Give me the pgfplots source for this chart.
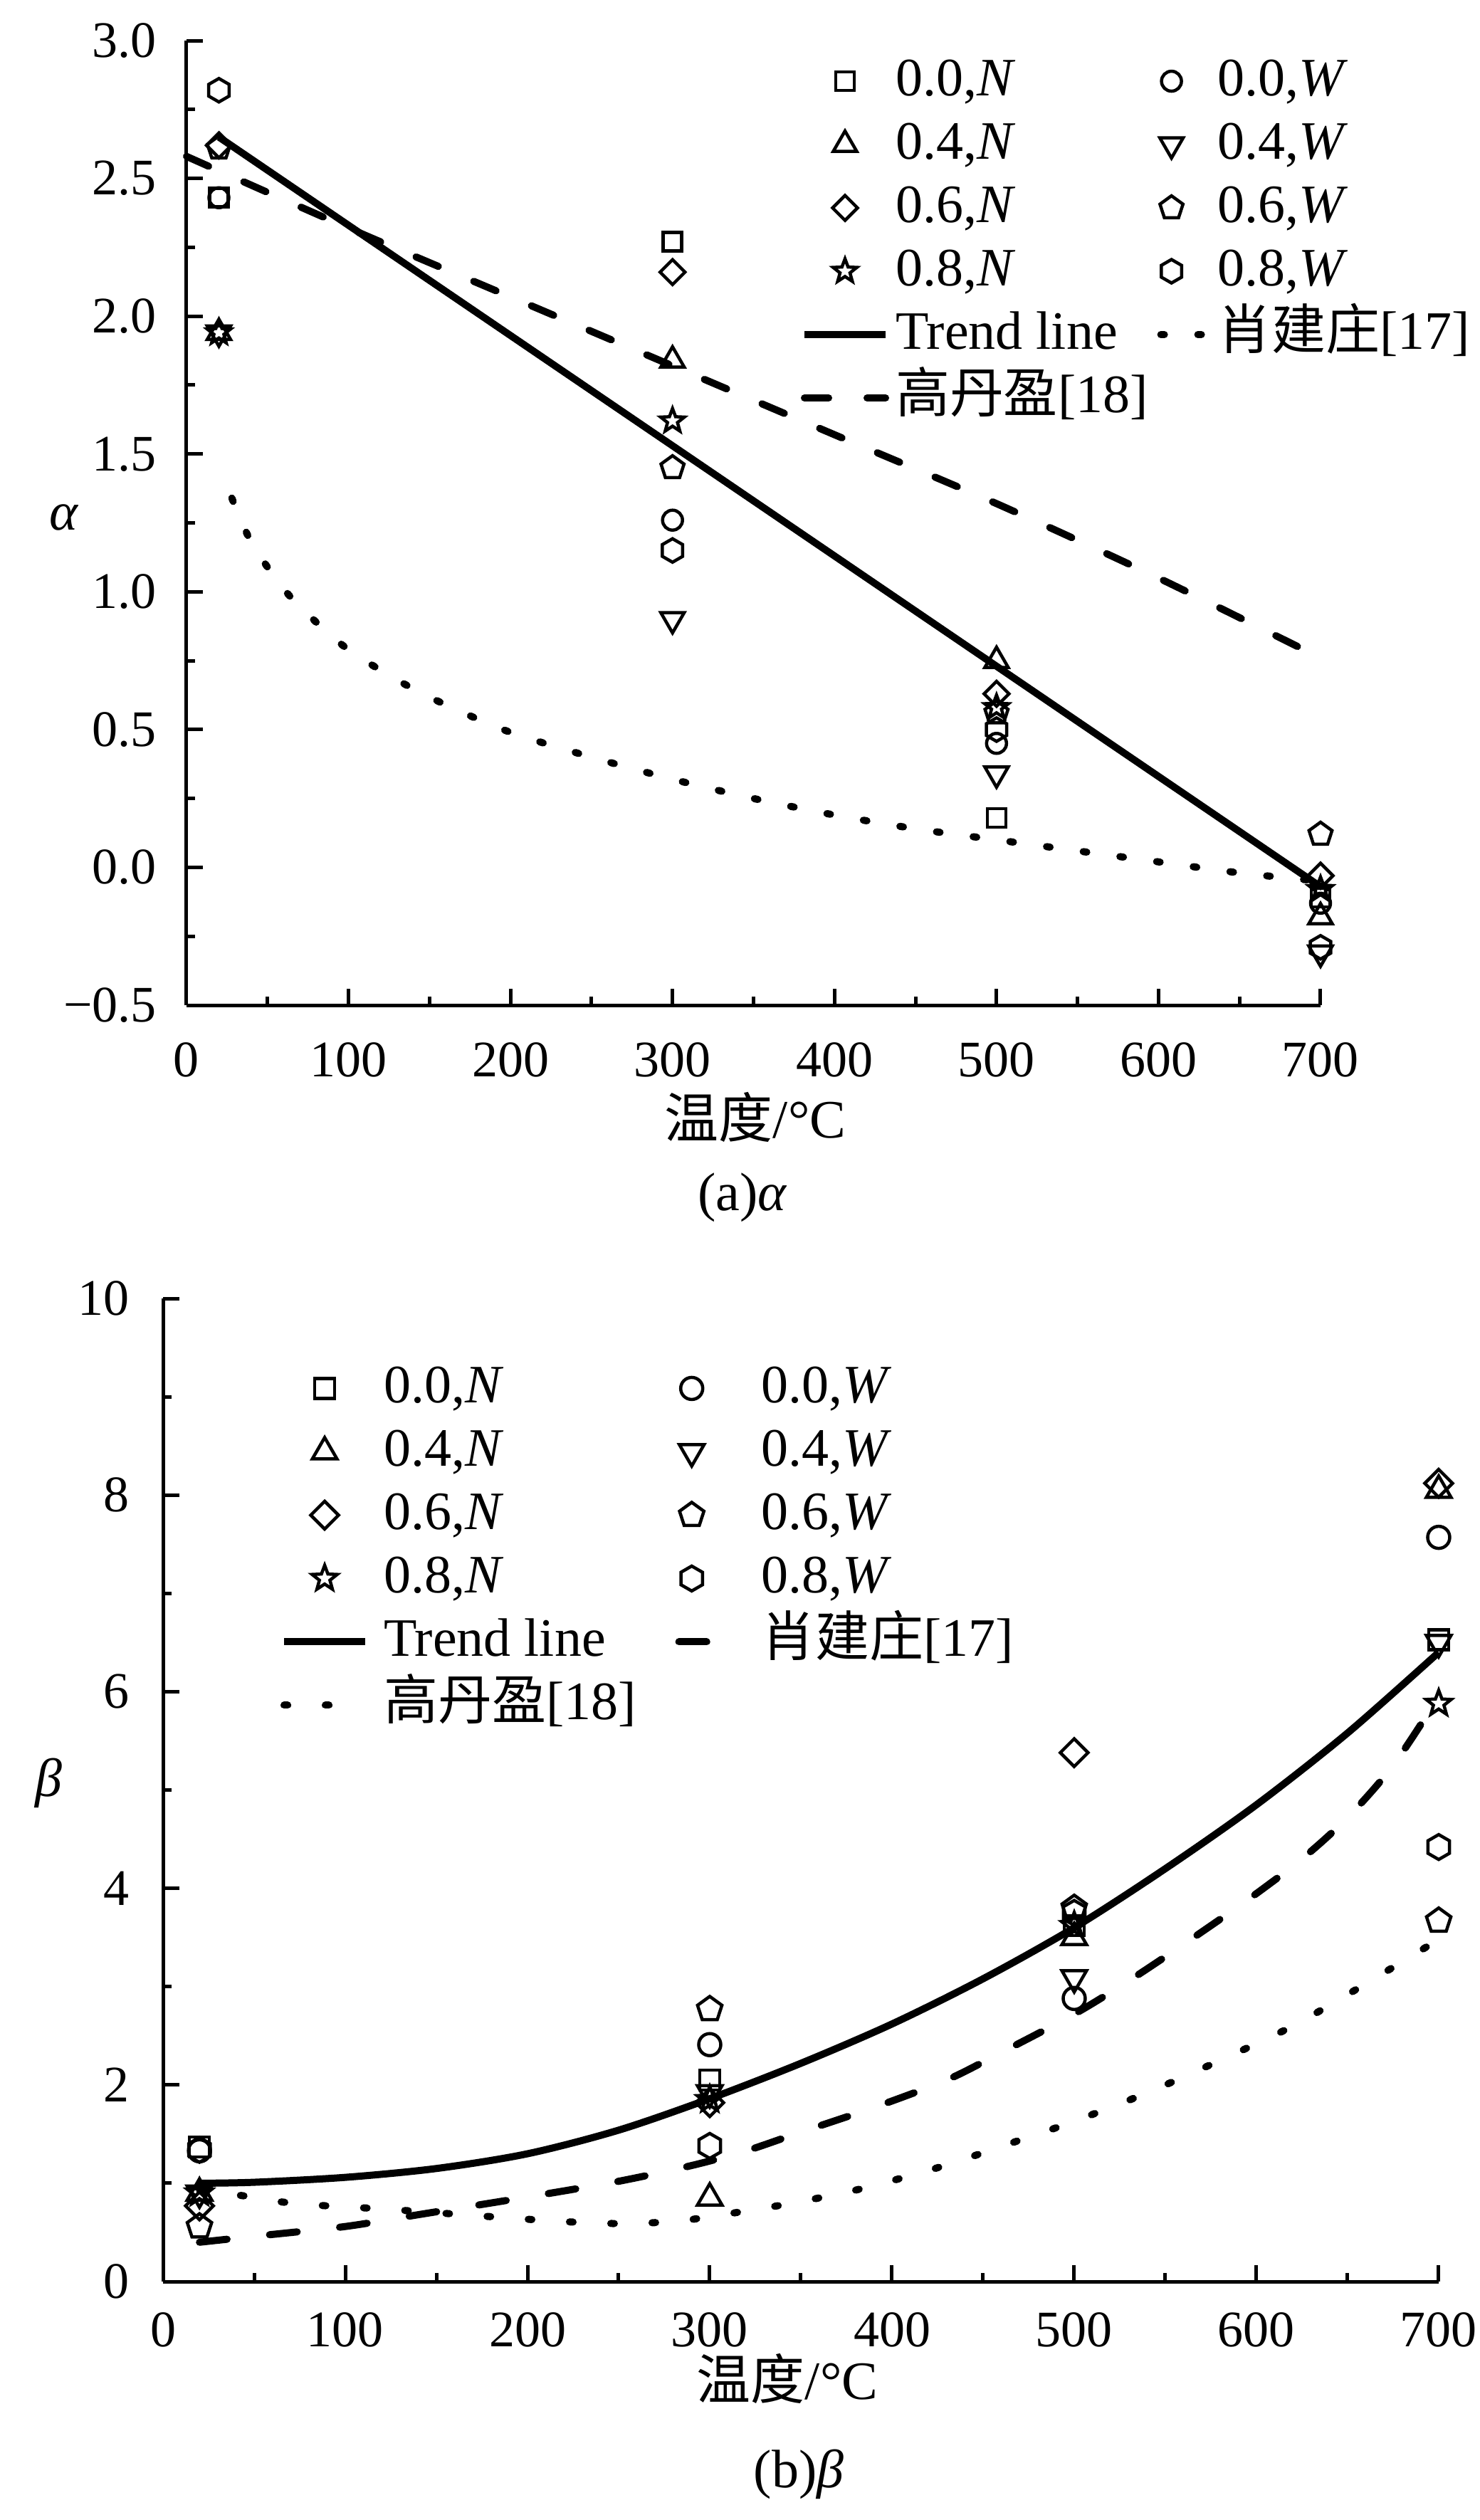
\documentclass[border=0pt]{standalone}
\usepackage{fontspec}
\setmainfont{Liberation Serif}
\newfontfamily\cjk{Noto Sans CJK SC}
\usepackage{pgfplots}
\pgfplotsset{compat=1.18}

\pgfdeclareplotmark{hexa}{%
  \pgfpathmoveto{\pgfpointpolar{90}{\pgfplotmarksize}}%
  \pgfpathlineto{\pgfpointpolar{150}{\pgfplotmarksize}}%
  \pgfpathlineto{\pgfpointpolar{210}{\pgfplotmarksize}}%
  \pgfpathlineto{\pgfpointpolar{270}{\pgfplotmarksize}}%
  \pgfpathlineto{\pgfpointpolar{330}{\pgfplotmarksize}}%
  \pgfpathlineto{\pgfpointpolar{30}{\pgfplotmarksize}}%
  \pgfpathclose\pgfusepathqstroke}
\pgfdeclareplotmark{ostar}{%
  \pgfpathmoveto{\pgfpointpolar{90}{\pgfplotmarksize}}%
  \pgfpathlineto{\pgfpointpolar{126}{0.42\pgfplotmarksize}}%
  \pgfpathlineto{\pgfpointpolar{162}{\pgfplotmarksize}}%
  \pgfpathlineto{\pgfpointpolar{198}{0.42\pgfplotmarksize}}%
  \pgfpathlineto{\pgfpointpolar{234}{\pgfplotmarksize}}%
  \pgfpathlineto{\pgfpointpolar{270}{0.42\pgfplotmarksize}}%
  \pgfpathlineto{\pgfpointpolar{306}{\pgfplotmarksize}}%
  \pgfpathlineto{\pgfpointpolar{342}{0.42\pgfplotmarksize}}%
  \pgfpathlineto{\pgfpointpolar{18}{\pgfplotmarksize}}%
  \pgfpathlineto{\pgfpointpolar{54}{0.42\pgfplotmarksize}}%
  \pgfpathclose\pgfusepathqstroke}
\pgfdeclareplotmark{dmnd}{%
  \pgfpathmoveto{\pgfqpoint{0pt}{\pgfplotmarksize}}%
  \pgfpathlineto{\pgfqpoint{\pgfplotmarksize}{0pt}}%
  \pgfpathlineto{\pgfqpoint{0pt}{-\pgfplotmarksize}}%
  \pgfpathlineto{\pgfqpoint{-\pgfplotmarksize}{0pt}}%
  \pgfpathclose\pgfusepathqstroke}
\pgfdeclareplotmark{itri}{%
  \pgfpathmoveto{\pgfpointpolar{270}{\pgfplotmarksize}}%
  \pgfpathlineto{\pgfpointpolar{30}{\pgfplotmarksize}}%
  \pgfpathlineto{\pgfpointpolar{150}{\pgfplotmarksize}}%
  \pgfpathclose\pgfusepathqstroke}

\pgfplotsset{
  base/.style={
    scale only axis,
    axis lines=left,
    axis line style={-, line width=0.5pt},
    tick align=inside,
    xmin=0, xmax=700,
    xtick={0,100,200,300,400,500,600,700},
    minor x tick num=1,
    minor y tick num=1,
    major tick length=2.3pt,
    minor tick length=1.2pt,
    every tick/.style={black, line width=0.5pt},
    tick label style={font=\fontsize{7.2}{8}\selectfont},
    /pgf/number format/assume math mode=true,
    clip=false,
    legend cell align=left,
    legend image code/.code={\draw[mark repeat=2,mark phase=2,##1] plot coordinates {(0pt,0pt) (5.7pt,0pt) (11.4pt,0pt)};},
  },
  legA/.style={legend image code/.code={\draw[mark repeat=2,mark phase=2,##1] plot coordinates {(0pt,0pt) (1.5pt,0pt) (6.6pt,0pt)};}},
  legB/.style={legend image code/.code={\draw[mark repeat=2,mark phase=2,##1] plot coordinates {(0pt,0pt) (1.8pt,0pt) (9pt,0pt)};}},
  mk/.style={black, only marks, mark=#1, mark options={solid, line width=0.45pt}},
}

\begin{document}
\begin{tikzpicture}
\useasboundingbox (0,0) rectangle (207.9pt,-354pt);

% ---------------- (a) alpha ----------------
\begin{axis}[base,
  at={(26.2pt,-141.2pt)}, anchor=south west,
  width=159.3pt, height=135.5pt,
  ymin=-0.5, ymax=3,
  ytick={-0.5,0,0.5,1,1.5,2,2.5,3},
  yticklabels={−0.5,0.0,0.5,1.0,1.5,2.0,2.5,3.0},
  xticklabel style={yshift=-1.7pt},
  yticklabel style={xshift=-0.7pt},
  legend columns=2,
  legend style={at={(0.5405,0.986)}, anchor=north west, draw=none, fill=none,
    inner sep=0pt, font=\fontsize{7.6}{9}\selectfont,
    row sep=1.7pt, column sep=0.9pt,
    /tikz/every even column/.append style={column sep=1.3pt},
    nodes={inner sep=0pt, text height=5.6pt, text depth=1.6pt}},
]
\addplot[mk=square, mark size=1.3pt] coordinates {(20,2.43) (300,2.27) (500,0.18) (700,-0.11)};
\addlegendentry{0.0,\textit{N}}
\addplot[mk=o, mark size=1.4pt, legA] coordinates {(20,2.43) (300,1.26) (500,0.45) (700,-0.13)};
\addlegendentry{0.0,\textit{W}}
\addplot[mk=triangle, mark size=1.9pt] coordinates {(20,1.94) (300,1.84) (500,0.75) (700,-0.18)};
\addlegendentry{0.4,\textit{N}}
\addplot[mk=itri, mark size=1.9pt, legA] coordinates {(20,1.94) (300,0.90) (500,0.34) (700,-0.31)};
\addlegendentry{0.4,\textit{W}}
\addplot[mk=dmnd, mark size=1.75pt] coordinates {(20,2.62) (300,2.16) (500,0.63) (700,-0.03)};
\addlegendentry{0.6,\textit{N}}
\addplot[mk=pentagon, mark size=1.7pt, legA] coordinates {(20,2.61) (300,1.45) (500,0.56) (700,0.12)};
\addlegendentry{0.6,\textit{W}}
\addplot[mk=ostar, mark size=1.75pt] coordinates {(20,1.94) (300,1.62) (500,0.58) (700,-0.08)};
\addlegendentry{0.8,\textit{N}}
\addplot[mk=hexa, mark size=1.65pt, legA] coordinates {(20,2.82) (300,1.15) (500,0.50) (700,-0.29)};
\addlegendentry{0.8,\textit{W}}
\addplot[black, line width=1pt, no markers] coordinates {(20,2.65) (700,-0.07)};
\addlegendentry{Trend line}
\addplot[black, line width=1pt, line cap=round, dash pattern=on 0.5pt off 4.7pt, no markers, smooth, legA] coordinates {
(28,1.34) (40,1.18) (60,1.01) (80,0.89) (100,0.79) (130,0.68) (160,0.59) (200,0.49) (250,0.40) (300,0.32) (350,0.25) (400,0.19) (450,0.14) (500,0.10) (550,0.06) (600,0.02) (650,-0.02) (700,-0.05)};
\addlegendentry{{\cjk 肖建庄}[17]}
\addplot[black, line width=1pt, line cap=round, dash pattern=on 3.4pt off 5.4pt, no markers, smooth] coordinates {
(0,2.58) (100,2.32) (200,2.07) (300,1.82) (400,1.57) (500,1.32) (600,1.05) (700,0.76)};
\addlegendentry{{\cjk 高丹盈}[18]}
\end{axis}

\node[font=\fontsize{7.6}{9}\selectfont] at (9.0pt,-72.7pt) {\textit{α}};
\node[font=\fontsize{7.6}{9}\selectfont] at (106.1pt,-156.9pt) {{\cjk 温度}/°C};
\node[font=\fontsize{7.6}{9}\selectfont] at (104.3pt,-168.2pt) {(a)\textit{α}};

% ---------------- (b) beta ----------------
\begin{axis}[base,
  at={(22.9pt,-320.5pt)}, anchor=south west,
  width=179.2pt, height=138.1pt,
  ymin=0, ymax=10,
  ytick={0,2,4,6,8,10},
  xticklabel style={yshift=-0.8pt},
  yticklabel style={xshift=-1.2pt},
  legend columns=2,
  legend style={at={(0.091,0.936)}, anchor=north west, draw=none, fill=none,
    inner sep=0pt, font=\fontsize{7.6}{9}\selectfont,
    row sep=1.7pt, column sep=2.1pt,
    /tikz/every even column/.append style={column sep=5.5pt},
    nodes={inner sep=0pt, text height=5.6pt, text depth=1.6pt}},
]
\addplot[mk=square, mark size=1.4pt] coordinates {(20,1.37) (300,2.05) (500,3.62) (700,6.53)};
\addlegendentry{0.0,\textit{N}}
\addplot[mk=o, mark size=1.55pt, legB] coordinates {(20,1.33) (300,2.41) (500,2.88) (700,7.57)};
\addlegendentry{0.0,\textit{W}}
\addplot[mk=triangle, mark size=2.0pt] coordinates {(20,0.90) (300,0.85) (500,3.50) (700,8.05)};
\addlegendentry{0.4,\textit{N}}
\addplot[mk=itri, mark size=2.0pt, legB] coordinates {(20,0.90) (300,1.92) (500,3.09) (700,6.50)};
\addlegendentry{0.4,\textit{W}}
\addplot[mk=dmnd, mark size=1.95pt] coordinates {(20,0.77) (300,1.82) (500,5.38) (700,8.12)};
\addlegendentry{0.6,\textit{N}}
\addplot[mk=pentagon, mark size=1.8pt, legB] coordinates {(20,0.56) (300,2.77) (500,3.80) (700,3.67)};
\addlegendentry{0.6,\textit{W}}
\addplot[mk=ostar, mark size=1.85pt] coordinates {(20,0.90) (300,1.85) (500,3.62) (700,5.88)};
\addlegendentry{0.8,\textit{N}}
\addplot[mk=hexa, mark size=1.75pt, legB] coordinates {(20,1.34) (300,1.38) (500,3.75) (700,4.42)};
\addlegendentry{0.8,\textit{W}}
\addplot[black, line width=1pt, no markers, smooth] coordinates {
(20,1.00) (50,1.01) (100,1.06) (150,1.15) (200,1.30) (250,1.54) (300,1.86) (350,2.22) (400,2.62) (450,3.08) (500,3.60) (550,4.20) (600,4.85) (650,5.58) (700,6.40)};
\addlegendentry{Trend line}
\addplot[black, line width=1pt, line cap=round, dash pattern=on 3.9pt off 6.0pt, no markers, smooth, legB] coordinates {
(20,0.40) (50,0.46) (100,0.56) (140,0.68) (200,0.86) (250,1.02) (290,1.18) (320,1.33) (350,1.52) (390,1.77) (430,2.05) (460,2.33) (500,2.72) (530,3.06) (560,3.43) (595,3.88) (625,4.30) (650,4.72) (675,5.25) (700,5.95)};
\addlegendentry{{\cjk 肖建庄}[17]}
\addplot[black, line width=1pt, line cap=round, dash pattern=on 0.5pt off 5.3pt, no markers, smooth] coordinates {
(20,0.93) (45,0.87) (65,0.81) (90,0.77) (110,0.75) (135,0.72) (180,0.66) (220,0.61) (250,0.59) (280,0.61) (300,0.66) (340,0.78) (380,0.93) (420,1.13) (450,1.31) (475,1.47) (500,1.63) (540,1.92) (580,2.25) (620,2.60) (660,3.03) (700,3.48)};
\addlegendentry{{\cjk 高丹盈}[18]}
\end{axis}

\node[font=\fontsize{7.6}{9}\selectfont] at (6.8pt,-250.5pt) {\textit{β}};
\node[font=\fontsize{7.6}{9}\selectfont] at (110.6pt,-334.1pt) {{\cjk 温度}/°C};
\node[font=\fontsize{7.6}{9}\selectfont] at (112.2pt,-347.6pt) {(b)\textit{β}};
\end{tikzpicture}
\end{document}
